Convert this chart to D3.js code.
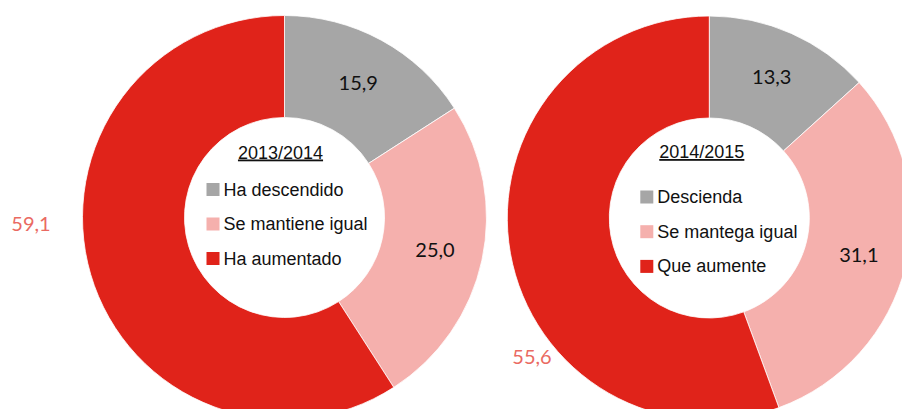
<!DOCTYPE html>
<html>
<head>
<meta charset="utf-8">
<script src="https://cdn.jsdelivr.net/npm/d3@7"></script>
<style>
  html, body { margin: 0; padding: 0; background: #ffffff; }
  svg { display: block; }
</style>
</head>
<body>
<svg id="chart" width="902" height="409"></svg>
<script>
// ---- data ----
const periods = ["2013/2014", "2014/2015"];
const categories2013 = ["Ha descendido", "Se mantiene igual", "Ha aumentado"];
const categories2015 = ["Descienda", "Se mantega igual", "Que aumente"];
const values2013 = [15.9, 25.0, 59.1];
const values2015 = [13.3, 31.1, 55.6];
const sliceColors = ["#A6A6A6", "#F5B0AD", "#E0231A"];

// ---- layout ----
const W = 902, H = 409;
const outerR = 202, innerR = 100;
const charts = [
  { title: periods[0], cats: categories2013, vals: values2013, cx: 284.5, cy: 217.5,
    titleY: -59, rowY0: -22, rowStep: 34.5, legendX: -78, titleX: -4,
    outside: { dx: -253.5, dy: 6 } },
  { title: periods[1], cats: categories2015, vals: values2015, cx: 709.3, cy: 218,
    titleY: -60, rowY0: -15, rowStep: 34.7, legendX: -69, titleX: -7.5,
    outside: { dx: -177.3, dy: 139 } }
];

const svg = d3.select("#chart");
const pie = d3.pie().sort(null).value(d => d).startAngle(0).endAngle(2 * Math.PI);
const arc = d3.arc().innerRadius(innerR).outerRadius(outerR);
const labelArc = d3.arc().innerRadius(150).outerRadius(158);
const fmt = v => d3.format(".1f")(v).replace(".", ",");

charts.forEach(c => {
  const g = svg.append("g").attr("transform", `translate(${c.cx},${c.cy})`);
  const arcs = pie(c.vals);
  g.selectAll("path.slice").data(arcs).enter().append("path")
    .attr("class", "slice")
    .attr("d", arc)
    .attr("fill", (d, i) => sliceColors[i])
    .attr("stroke", "#ffffff")
    .attr("stroke-width", 0.8);

  // data labels
  g.selectAll("text.val").data(arcs).enter().append("text")
    .attr("class", "val")
    .attr("x", (d, i) => i === 2 ? c.outside.dx : labelArc.centroid(d)[0])
    .attr("y", (d, i) => i === 2 ? c.outside.dy : labelArc.centroid(d)[1])
    .attr("dy", "0.36em")
    .attr("text-anchor", "middle")
    .attr("font-family", "Lato, 'Open Sans', sans-serif")
    .attr("font-size", 20)
    .attr("fill", (d, i) => i === 2 ? "#EA6A62" : "#111111")
    .text(d => fmt(d.data));

  // legend title
  const t = g.append("text")
    .attr("x", c.titleX)
    .attr("y", c.titleY)
    .attr("text-anchor", "middle")
    .attr("font-family", "'Liberation Sans', Arial, sans-serif")
    .attr("font-size", 18)
    .attr("fill", "#111111")
    .attr("text-decoration", "underline")
    .text(c.title);

  // legend rows
  const rows = g.selectAll("g.leg").data(c.cats).enter().append("g")
    .attr("class", "leg")
    .attr("transform", (d, i) => `translate(${c.legendX},${c.rowY0 + i * c.rowStep})`);
  rows.append("rect")
    .attr("x", 0).attr("y", -12.5)
    .attr("width", 13).attr("height", 13)
    .attr("fill", (d, i) => sliceColors[i]);
  rows.append("text")
    .attr("x", 17).attr("y", 0)
    .attr("font-family", "'Liberation Sans', Arial, sans-serif")
    .attr("font-size", 18)
    .attr("fill", "#111111")
    .text(d => d);
});
</script>
</body>
</html>
